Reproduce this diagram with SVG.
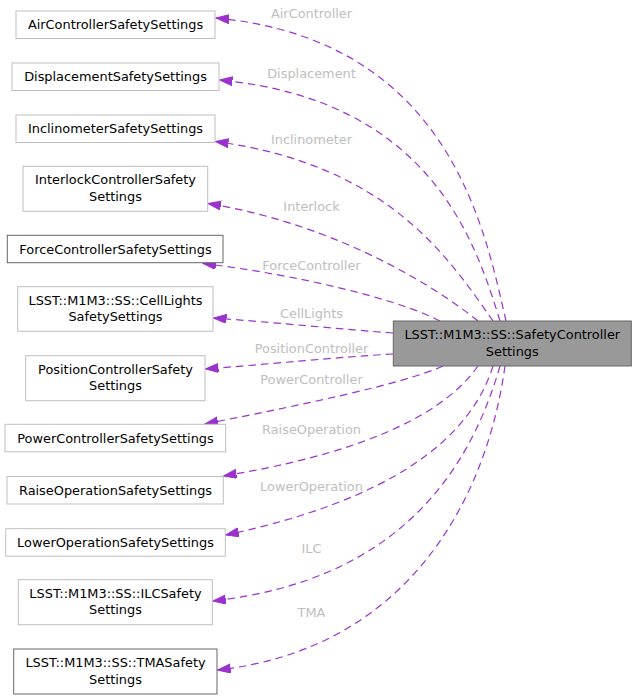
<svg xmlns="http://www.w3.org/2000/svg" width="636" height="699" viewBox="0 0 636 699">
<defs>
<style>
.n rect{fill:#fff;stroke:#bfbfbf;stroke-width:1}
.n.d rect{stroke:#666}
.n.m rect{fill:#999;stroke:#666}
.n text{font-family:"DejaVu Sans",sans-serif;font-size:12.9px;fill:#000;text-anchor:middle}
.e path{fill:none;stroke:#9a32cd;stroke-width:1.2;stroke-dasharray:7.5,5;marker-end:url(#ah)}
.lbl text{font-family:"DejaVu Sans",sans-serif;font-size:12.9px;fill:#bebebe;text-anchor:middle}
</style>
<marker id="ah" markerUnits="userSpaceOnUse" markerWidth="14" markerHeight="10" refX="13" refY="4.5" orient="auto" viewBox="0 0 14 10">
<path d="M0,0 L13,4.5 L0,9 z" fill="#9a32cd" stroke="#9a32cd" stroke-width="1"/>
</marker>
</defs>
<rect width="636" height="699" fill="#fff"/>
<g id="connectors" class="e">
<path d="M506,321 C485,230 450,40 216,18"/>
<path d="M500,321 C475,240 430,100 219.5,80"/>
<path d="M493,321 C450,260 390,165 215.5,141.5"/>
<path d="M478,321 C440,290 340,225 208,203.5"/>
<path d="M440,321 C400,300 300,275 203,263.5"/>
<path d="M393,333 C350,330 270,322 213.5,318"/>
<path d="M393,354 C340,357 270,364 205.5,369"/>
<path d="M443,366 C400,385 300,405 205,424"/>
<path d="M478,366 C440,420 350,455 223.5,476"/>
<path d="M493,366 C470,440 390,500 225.8,535"/>
<path d="M500,366 C470,470 400,580 212.8,601"/>
<path d="M505,366 C485,510 400,650 217.5,670"/>
</g>
<g id="edge-labels" class="lbl">
<text x="311.5" y="18.3">AirController</text>
<text x="311.5" y="77.8">Displacement</text>
<text x="311.5" y="144.3">Inclinometer</text>
<text x="311.5" y="211">Interlock</text>
<text x="311.5" y="270.3">ForceController</text>
<text x="311.5" y="318">CellLights</text>
<text x="311.5" y="352.6">PositionController</text>
<text x="311.5" y="384.3">PowerController</text>
<text x="311.5" y="433.6">RaiseOperation</text>
<text x="311.5" y="491">LowerOperation</text>
<text x="311.5" y="553">ILC</text>
<text x="311.5" y="616.6">TMA</text>
</g>
<g id="main" class="n m"><rect x="393.3" y="321" width="238" height="45"/><text x="512.3" y="338.8">LSST::M1M3::SS::SafetyController</text><text x="512.3" y="355.7">Settings</text></g>
<g id="air" class="n"><rect x="16" y="11" width="199" height="27.5"/><text x="115.5" y="29.3">AirControllerSafetySettings</text></g>
<g id="displacement" class="n"><rect x="12" y="63" width="207" height="27.5"/><text x="115.5" y="81.2">DisplacementSafetySettings</text></g>
<g id="inclinometer" class="n"><rect x="16" y="115" width="199" height="27.5"/><text x="115.5" y="133.3">InclinometerSafetySettings</text></g>
<g id="interlock" class="n"><rect x="23" y="166.3" width="184.7" height="45"/><text x="115.5" y="184.3">InterlockControllerSafety</text><text x="115.5" y="201">Settings</text></g>
<g id="force" class="n d"><rect x="7.3" y="235.3" width="215.7" height="27.4"/><text x="115.5" y="253.5">ForceControllerSafetySettings</text></g>
<g id="celllights" class="n"><rect x="17.7" y="286.7" width="195.3" height="44.6"/><text x="115.5" y="304.5">LSST::M1M3::SS::CellLights</text><text x="115.5" y="321.2">SafetySettings</text></g>
<g id="position" class="n"><rect x="25.7" y="355.7" width="179.3" height="45"/><text x="115.5" y="373.7">PositionControllerSafety</text><text x="115.5" y="390.4">Settings</text></g>
<g id="power" class="n"><rect x="5" y="424.3" width="220.7" height="27.5"/><text x="115.5" y="442.5">PowerControllerSafetySettings</text></g>
<g id="raise" class="n"><rect x="7" y="476.5" width="216.3" height="27.5"/><text x="115.5" y="494.7">RaiseOperationSafetySettings</text></g>
<g id="lower" class="n"><rect x="5.7" y="528.7" width="219.6" height="27.5"/><text x="115.5" y="547">LowerOperationSafetySettings</text></g>
<g id="ilc" class="n"><rect x="18.3" y="579.7" width="194" height="45"/><text x="115.5" y="597.7">LSST::M1M3::SS::ILCSafety</text><text x="115.5" y="614.4">Settings</text></g>
<g id="tma" class="n d"><rect x="13.7" y="649" width="203.3" height="45"/><text x="115.5" y="667">LSST::M1M3::SS::TMASafety</text><text x="115.5" y="683.7">Settings</text></g>
</svg>
